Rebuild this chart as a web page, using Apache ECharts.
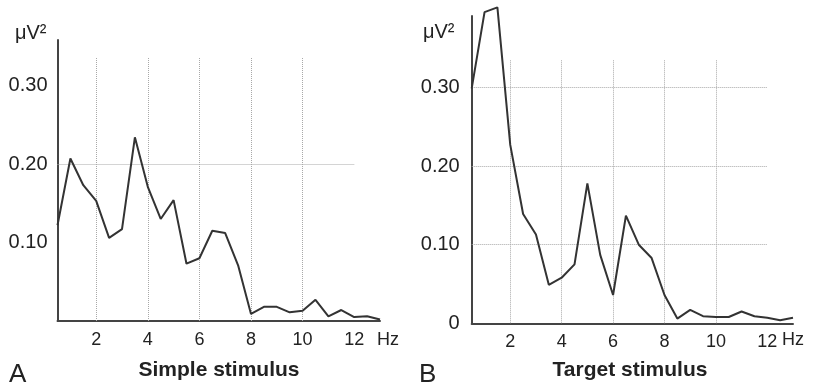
<!DOCTYPE html>
<html>
<head>
<meta charset="utf-8">
<script src="https://cdn.jsdelivr.net/npm/echarts@6/dist/echarts.min.js"></script>
<style>
  html, body { margin: 0; padding: 0; background: #fff; }
  #chart { width: 815px; height: 388px; }
</style>
</head>
<body>
<div id="chart"></div>
<script>
// Power spectra (µV²) sampled every 0.5 Hz
var freqs = [0.5, 1, 1.5, 2, 2.5, 3, 3.5, 4, 4.5, 5, 5.5, 6, 6.5, 7, 7.5, 8, 8.5, 9, 9.5, 10, 10.5, 11, 11.5, 12, 12.5, 13];
var simplePower = [0.122, 0.207, 0.173, 0.153, 0.106, 0.117, 0.234, 0.171, 0.130, 0.154, 0.073, 0.080, 0.115, 0.112, 0.071, 0.009, 0.018, 0.018, 0.011, 0.013, 0.027, 0.006, 0.014, 0.005, 0.006, 0.002];
var targetPower = [0.299, 0.396, 0.402, 0.227, 0.139, 0.113, 0.049, 0.058, 0.075, 0.178, 0.087, 0.036, 0.137, 0.100, 0.083, 0.036, 0.006, 0.017, 0.009, 0.008, 0.008, 0.015, 0.009, 0.007, 0.004, 0.007];

var xTicks = [2, 4, 6, 8, 10, 12];
var yTicksSimple = [0.1, 0.2, 0.3];
var yTicksTarget = [0, 0.1, 0.2, 0.3];
var vGuides = [2, 4, 6, 8, 10];
var hGuidesSimple = [0.2];
var hGuidesTarget = [0.1, 0.2, 0.3];
var guideTop = 0.335;
var guideRight = 12;

var FONT = '"Liberation Sans", Arial, sans-serif';
var INK = '#222';

function pairs(xs, ys) {
  return xs.map(function (x, i) { return [x, ys[i]]; });
}

// dotted guide lines: verticals at even Hz, horizontals at the given power levels
function guideLines(hVals) {
  var out = [];
  vGuides.forEach(function (x) { out.push({ coords: [[x, 0], [x, guideTop]] }); });
  hVals.forEach(function (y) { out.push({ coords: [[freqs[0], y], [guideRight, y]] }); });
  return out;
}

function xAxisFor(idx) {
  return {
    type: 'value', gridIndex: idx, min: 0.5, max: 13,
    axisLine: { show: true, onZero: false, lineStyle: { color: '#444', width: 2 } },
    axisTick: { show: false },
    splitLine: { show: false },
    axisLabel: {
      customValues: xTicks, margin: 10,
      fontSize: 18, fontFamily: FONT, color: INK
    }
  };
}

function yAxisFor(idx, max, ticks, margin) {
  return {
    type: 'value', gridIndex: idx, min: 0, max: max,
    axisLine: { show: true, lineStyle: { color: '#444', width: 2 } },
    axisTick: { show: false },
    splitLine: { show: false },
    axisLabel: {
      customValues: ticks, margin: margin,
      fontSize: 20, fontFamily: FONT, color: INK,
      formatter: function (v) { return v === 0 ? '0' : v.toFixed(2); }
    }
  };
}

function text(str, x, y, size, weight, align) {
  return {
    type: 'text', x: x, y: y,
    style: {
      text: str, fill: INK, align: align || 'center', verticalAlign: 'middle',
      font: (weight || 'normal') + ' ' + size + 'px ' + FONT
    }
  };
}

var chart = echarts.init(document.getElementById('chart'), null, { renderer: 'canvas' });

chart.setOption({
  backgroundColor: '#ffffff',
  animation: false,
  grid: [
    { left: 57.5, top: 40, width: 322.5, height: 281 },
    { left: 471.7, top: 16, width: 321.3, height: 307.3 }
  ],
  xAxis: [xAxisFor(0), xAxisFor(1)],
  yAxis: [
    yAxisFor(0, 0.358, yTicksSimple, 10),
    yAxisFor(1, 0.391, yTicksTarget, 12)
  ],
  series: [
    {
      type: 'lines', coordinateSystem: 'cartesian2d', xAxisIndex: 0, yAxisIndex: 0,
      silent: true, z: 1,
      lineStyle: { color: '#a8a8a8', width: 1, type: 'dotted', opacity: 1 },
      data: guideLines(hGuidesSimple)
    },
    {
      type: 'lines', coordinateSystem: 'cartesian2d', xAxisIndex: 1, yAxisIndex: 1,
      silent: true, z: 1,
      lineStyle: { color: '#a8a8a8', width: 1, type: 'dotted', opacity: 1 },
      data: guideLines(hGuidesTarget)
    },
    {
      name: 'Simple stimulus', type: 'line', xAxisIndex: 0, yAxisIndex: 0,
      data: pairs(freqs, simplePower), showSymbol: false, clip: false, z: 3,
      lineStyle: { color: '#333', width: 2 }
    },
    {
      name: 'Target stimulus', type: 'line', xAxisIndex: 1, yAxisIndex: 1,
      data: pairs(freqs, targetPower), showSymbol: false, clip: false, z: 3,
      lineStyle: { color: '#333', width: 2 }
    }
  ],
  graphic: [
    text('μV²', 15, 33, 20, 'normal', 'left'),
    text('μV²', 423, 32, 20, 'normal', 'left'),
    text('Hz', 377, 340, 18, 'normal', 'left'),
    text('Hz', 782, 340, 18, 'normal', 'left'),
    text('Simple stimulus', 219, 370, 21, 'bold'),
    text('Target stimulus', 630, 370, 21, 'bold'),
    text('A', 9, 375, 26, 'normal', 'left'),
    text('B', 419, 375, 26, 'normal', 'left')
  ]
});
</script>
</body>
</html>
